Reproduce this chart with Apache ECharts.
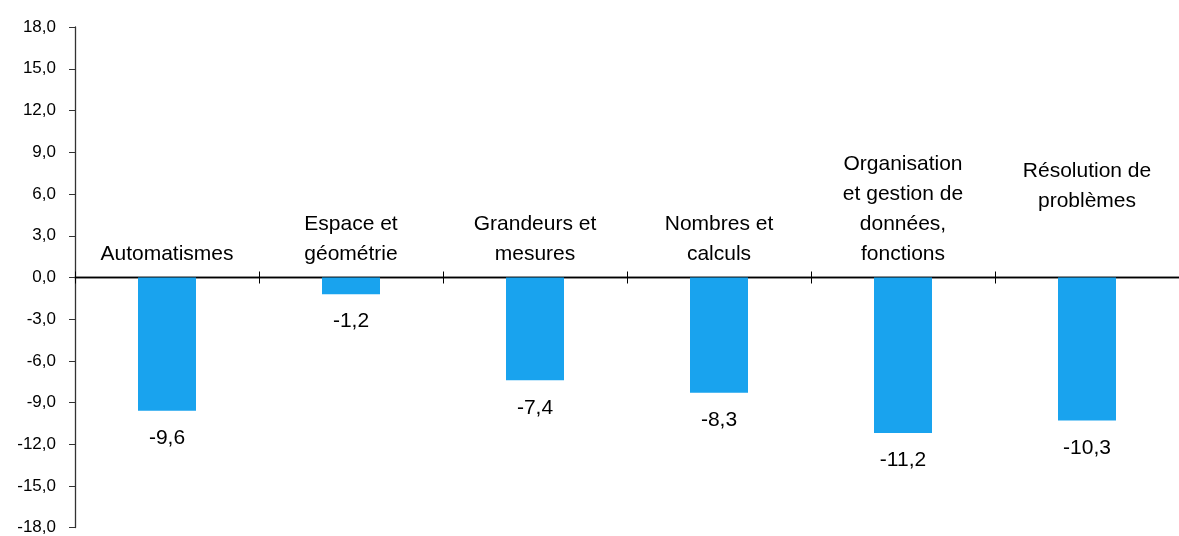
<!DOCTYPE html>
<html>
<head>
<meta charset="utf-8">
<script src="https://cdn.jsdelivr.net/npm/echarts@6/dist/echarts.min.js"></script>
<style>html,body{margin:0;padding:0;background:#fff;}#c{width:1179px;height:536px;}</style>
</head>
<body>
<div id="c"></div>
<script>
const categories = ['Automatismes', 'Espace et\ngéométrie', 'Grandeurs et\nmesures', 'Nombres et\ncalculs', 'Organisation\net gestion de\ndonnées,\nfonctions', 'Résolution de\nproblèmes'];
const values = [-9.6, -1.2, -7.4, -8.3, -11.2, -10.3];
const yMin = -18, yZero = 0, yMax = 18, yStep = 3;

const FONT = "'Liberation Sans', Arial, sans-serif";
const fmt = v => Number(v).toFixed(1).replace('.', ',');

const catData = categories.map((c, i) => i === 5 ? { value: c, textStyle: { padding: [0, 0, 53, 0] } } : c);

const L = 75, W = 1114, TOP = 27, H = 501;
const half = H / 2;

const yAxisBase = {
  type: 'value',
  interval: yStep,
  axisLine: { show: true, lineStyle: { color: '#333', width: 1.3 } },
  axisTick: { show: true, length: 6, lineStyle: { color: '#333' } },
  axisLabel: { formatter: fmt, fontFamily: FONT, fontSize: 17, color: '#000', margin: 19 },
  splitLine: { show: false }
};

const chart = echarts.init(document.getElementById('c'), null, { renderer: 'canvas' });
chart.setOption({
  animation: false,
  backgroundColor: '#ffffff',
  grid: [
    { left: L, top: TOP, height: half, width: W },
    { left: L, top: TOP + half, height: half, width: W }
  ],
  xAxis: [{
    gridIndex: 0,
    type: 'category',
    data: catData,
    position: 'bottom',
    axisLine: { onZero: false, lineStyle: { color: '#000', width: 1.3 } },
    axisTick: { show: true, inside: true, length: 6, lineStyle: { color: '#000' } },
    axisLabel: { inside: true, margin: 8, verticalAlign: 'bottom', fontFamily: FONT, fontSize: 21, lineHeight: 30, color: '#000', interval: 0 },
    splitLine: { show: false }
  }, {
    gridIndex: 1,
    type: 'category',
    data: catData,
    position: 'top',
    axisLine: { onZero: false, lineStyle: { color: '#000', width: 1.3 } },
    axisTick: { show: true, inside: true, length: 6, lineStyle: { color: '#000' } },
    axisLabel: { show: false },
    splitLine: { show: false }
  }],
  yAxis: [
    Object.assign({}, yAxisBase, { gridIndex: 0, min: yZero, max: yMax }),
    Object.assign({}, yAxisBase, { gridIndex: 1, min: yMin, max: yZero,
      axisLabel: Object.assign({}, yAxisBase.axisLabel, { showMaxLabel: false }) })
  ],
  series: [{
    type: 'bar',
    xAxisIndex: 1,
    yAxisIndex: 1,
    data: values,
    barWidth: 58,
    itemStyle: { color: '#19A3EE' },
    label: { show: true, position: 'bottom', distance: 17, formatter: p => fmt(p.value), fontFamily: FONT, fontSize: 21, color: '#000' }
  }]
});
</script>
</body>
</html>
